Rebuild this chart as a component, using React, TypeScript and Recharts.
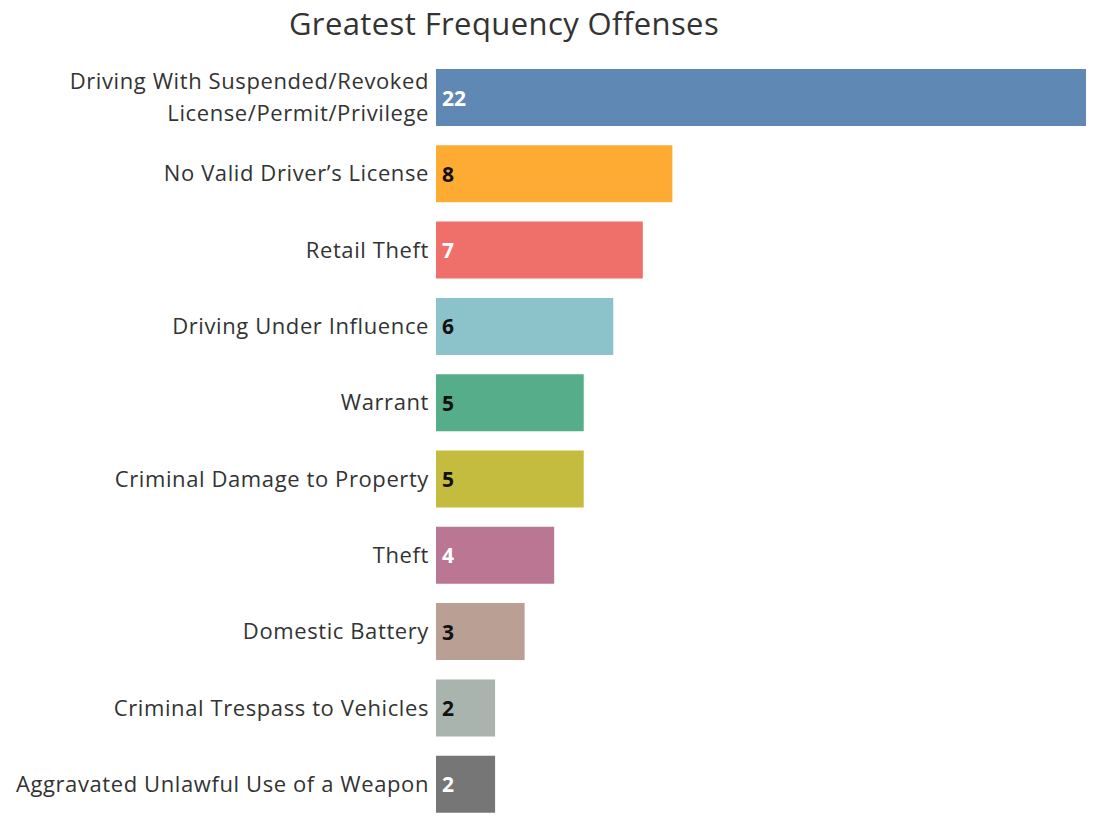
import React from 'react';
import { BarChart, Bar, XAxis, YAxis, Cell, LabelList } from 'recharts';

const categories = [
  'Driving With Suspended/Revoked License/Permit/Privilege',
  'No Valid Driver\u2019s License',
  'Retail Theft',
  'Driving Under Influence',
  'Warrant',
  'Criminal Damage to Property',
  'Theft',
  'Domestic Battery',
  'Criminal Trespass to Vehicles',
  'Aggravated Unlawful Use of a Weapon',
];
const counts = [22, 8, 7, 6, 5, 5, 4, 3, 2, 2];
const barColors = ['#6088b5', '#feab33', '#ef6f6a', '#8cc2ca', '#55ad89', '#c3bc3f', '#bb7693', '#baa094', '#aab4ae', '#767676'];
const valueColors = ['#ffffff', '#111111', '#ffffff', '#111111', '#111111', '#111111', '#ffffff', '#111111', '#111111', '#ffffff'];

const data = categories.map((name, i) => ({ name, value: counts[i], idx: i }));

const FONT = '"Open Sans", "Noto Sans", sans-serif';

function wrap(text: string, maxChars: number): string[] {
  const words = text.split(' ');
  const lines: string[] = [];
  let cur = '';
  for (const w of words) {
    const next = cur ? cur + ' ' + w : w;
    if (next.length > maxChars && cur) {
      lines.push(cur);
      cur = w;
    } else {
      cur = next;
    }
  }
  if (cur) lines.push(cur);
  return lines;
}

const CategoryTick = (props: any) => {
  const { x, y, payload } = props;
  const lines = wrap(String(payload.value), 36);
  const lh = 32;
  const start = -((lines.length - 1) * lh) / 2;
  return (
    <text x={x} y={y} textAnchor="end" fill="#333333" fontSize={22} letterSpacing={0.6} fontFamily={FONT}>
      {lines.map((l, i) => (
        <tspan key={i} x={x} dy={i === 0 ? start + 8 : lh}>
          {l}
        </tspan>
      ))}
    </text>
  );
};

const ValueLabel = (props: any) => {
  const { x, y, height, value, index } = props;
  return (
    <text
      x={x + 6}
      y={y + height / 2 + 8}
      fill={valueColors[index]}
      fontSize={21}
      fontWeight="bold"
      fontFamily={FONT}
    >
      {value}
    </text>
  );
};

export default function App() {
  return (
    <div style={{ position: 'absolute', left: 0, top: 0, width: 1099, height: 816, overflow: 'hidden', background: '#ffffff' }}>
      <div
        style={{
          position: 'absolute',
          left: 0,
          width: 1008,
          top: 2,
          textAlign: 'center',
          fontFamily: FONT,
          fontSize: 31,
          letterSpacing: 0.4,
          color: '#333333',
        }}
      >
        Greatest Frequency Offenses
      </div>
      <BarChart
        width={1099}
        height={830}
        data={data}
        layout="vertical"
        margin={{ top: 59, right: 13, bottom: 8, left: 0 }}
        barCategoryGap={19}
      >
        <XAxis type="number" domain={[0, 22]} hide />
        <YAxis
          type="category"
          dataKey="name"
          width={436}
          axisLine={false}
          tickLine={false}
          tickSize={0}
          tickMargin={7}
          interval={0}
          tick={<CategoryTick />}
        />
        <Bar dataKey="value" isAnimationActive={false} barSize={57}>
          {data.map((d, i) => (
            <Cell key={i} fill={barColors[i]} />
          ))}
          <LabelList dataKey="value" content={<ValueLabel />} />
        </Bar>
      </BarChart>
    </div>
  );
}
